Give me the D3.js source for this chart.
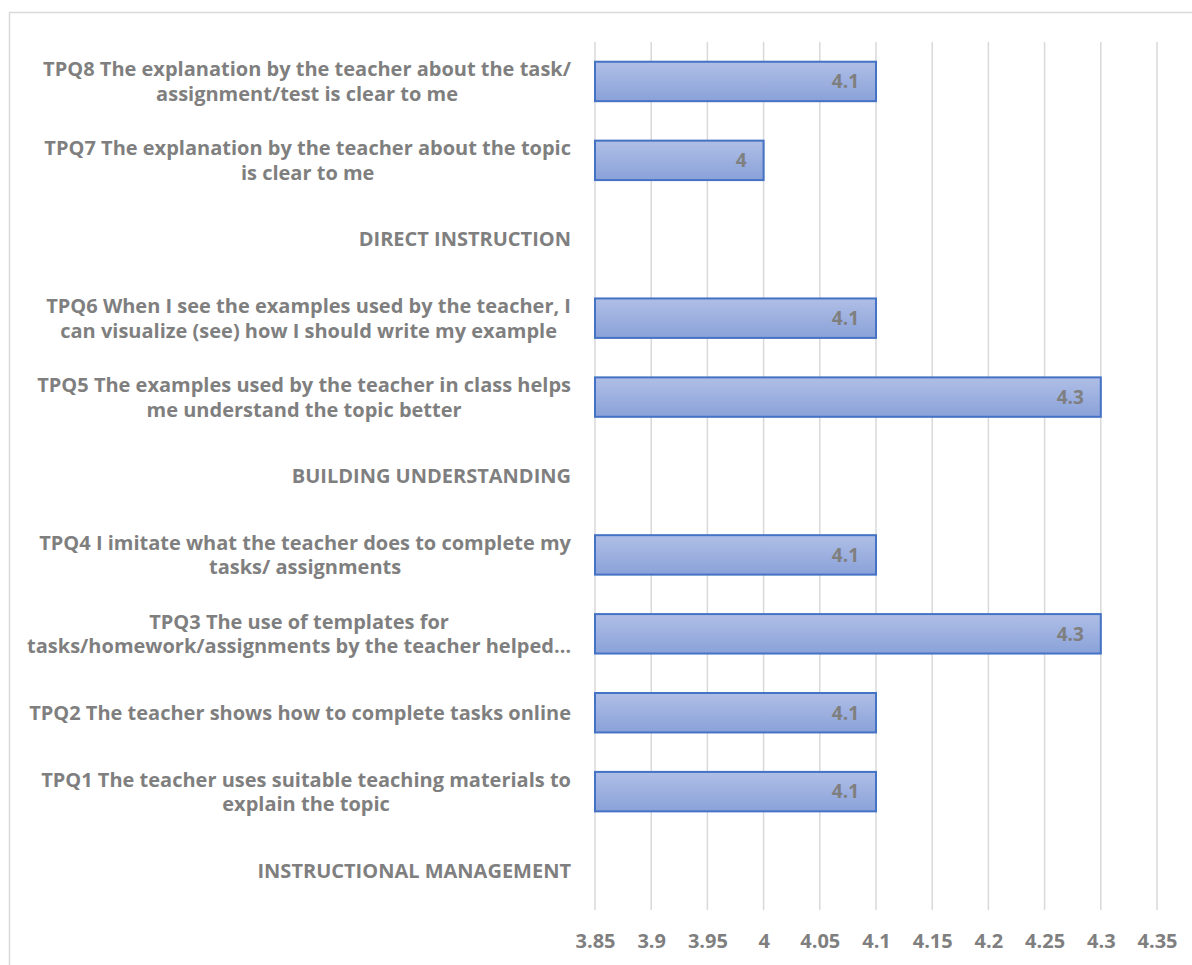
<!DOCTYPE html>
<html>
<head>
<meta charset="utf-8">
<script src="https://cdn.jsdelivr.net/npm/d3@7/dist/d3.min.js"></script>
<style>
  html, body { margin: 0; padding: 0; background: #fff; }
  svg { display: block; }
</style>
</head>
<body>
<svg id="chart" width="1192" height="965"></svg>
<script>
// ---- data (top to bottom as displayed) ----
const categories = [
  "TPQ8 The explanation by the teacher about the task/\nassignment/test is clear to me",
  "TPQ7 The explanation by the teacher about the topic\nis clear to me",
  "DIRECT INSTRUCTION",
  "TPQ6 When I see the examples used by the teacher, I\ncan visualize (see) how I should write my example",
  "TPQ5 The examples used by the teacher in class helps\nme understand the topic better",
  "BUILDING UNDERSTANDING",
  "TPQ4 I imitate what the teacher does to complete my\ntasks/ assignments",
  "TPQ3 The use of templates for\ntasks/homework/assignments by the teacher helped…",
  "TPQ2 The teacher shows how to complete tasks online",
  "TPQ1 The teacher uses suitable teaching materials to\nexplain the topic",
  "INSTRUCTIONAL MANAGEMENT"
];
const values = [4.1, 4.0, null, 4.1, 4.3, null, 4.1, 4.3, 4.1, 4.1, null];
const tickValues = [3.85, 3.9, 3.95, 4.0, 4.05, 4.1, 4.15, 4.2, 4.25, 4.3, 4.35];
const tickLabels = ["3.85", "3.9", "3.95", "4", "4.05", "4.1", "4.15", "4.2", "4.25", "4.3", "4.35"];
const xDomain = [3.85, 4.35];

// ---- layout ----
const svg = d3.select("#chart");
const FONT = "'Open Sans', Lato, sans-serif";
const GRAY = "#7f7f7f";
const plot = { left: 595, right: 1157, top: 42, bottom: 910 };

svg.append("rect").attr("width", 1192).attr("height", 965).attr("fill", "#fff");
svg.append("rect")
  .attr("x", 9.5).attr("y", 12.5).attr("width", 1250).attr("height", 1000)
  .attr("fill", "none").attr("stroke", "#d9d9d9").attr("stroke-width", 1.5);

const defs = svg.append("defs");
const grad = defs.append("linearGradient").attr("id", "barGrad")
  .attr("x1", 0).attr("y1", 0).attr("x2", 0).attr("y2", 1);
grad.append("stop").attr("offset", "0%").attr("stop-color", "#afbee6");
grad.append("stop").attr("offset", "100%").attr("stop-color", "#8aa2d9");

const x = d3.scaleLinear().domain(xDomain).range([plot.left, plot.right]);
const y = d3.scaleBand().domain(categories).range([plot.top, plot.bottom])
  .paddingInner(0.5).paddingOuter(0.25);

// gridlines
svg.append("g").selectAll("line").data(tickValues).join("line")
  .attr("x1", d => x(d)).attr("x2", d => x(d))
  .attr("y1", plot.top).attr("y2", plot.bottom)
  .attr("stroke", "#d9d9d9").attr("stroke-width", 1.5);

// x axis labels
const xAxis = d3.axisBottom(x).tickValues(tickValues)
  .tickFormat((d, i) => tickLabels[i]).tickSize(0).tickPadding(0);
const gx = svg.append("g").attr("transform", `translate(0,${plot.bottom + 24})`).call(xAxis);
gx.select(".domain").remove();
gx.selectAll("text").attr("fill", GRAY).attr("font-family", FONT)
  .attr("font-weight", "bold").attr("font-size", 20);

// bars
const data = categories.map((c, i) => ({ c, v: values[i] })).filter(d => d.v != null);
svg.append("g").selectAll("rect").data(data).join("rect")
  .attr("x", x(xDomain[0]))
  .attr("y", d => y(d.c))
  .attr("width", d => x(d.v) - x(xDomain[0]))
  .attr("height", y.bandwidth())
  .attr("fill", "url(#barGrad)")
  .attr("stroke", "#4472c4").attr("stroke-width", 2);

// value labels
svg.append("g").selectAll("text").data(data).join("text")
  .attr("x", d => x(d.v) - 17)
  .attr("y", d => y(d.c) + y.bandwidth() / 2)
  .attr("dy", "0.36em")
  .attr("text-anchor", "end")
  .attr("fill", GRAY).attr("font-family", FONT).attr("font-weight", "bold").attr("font-size", 19)
  .text(d => d.v);

// category labels: block right-aligned, lines centered within block
const labelRight = 571;
const lineH = 24.5;
const lg = svg.append("g").attr("font-family", FONT).attr("font-weight", "bold")
  .attr("font-size", 20).attr("fill", GRAY);
categories.forEach(c => {
  const lines = c.split("\n");
  const cy = y(c) + y.bandwidth() / 2;
  const g = lg.append("g");
  const texts = lines.map((ln, i) => g.append("text")
    .attr("y", cy + (i - (lines.length - 1) / 2) * lineH)
    .attr("dy", "0.36em").text(ln));
  const widths = texts.map(t => t.node().getComputedTextLength());
  const maxW = d3.max(widths);
  const cx = labelRight - maxW / 2;
  texts.forEach(t => t.attr("x", cx).attr("text-anchor", "middle"));
});
</script>
</body>
</html>
